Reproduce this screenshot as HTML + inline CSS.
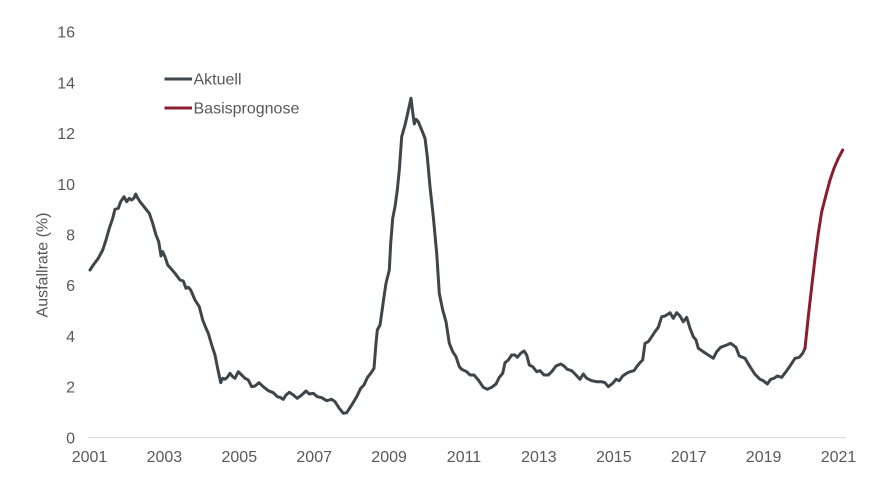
<!DOCTYPE html>
<html>
<head>
<meta charset="utf-8">
<style>
  html,body{margin:0;padding:0;background:#ffffff;}
  svg{display:block;}
  text{font-family:"Liberation Sans",Arial,sans-serif;fill:#595959;}
</style>
</head>
<body>
<svg width="890" height="489" viewBox="0 0 890 489" xmlns="http://www.w3.org/2000/svg">
  <rect width="890" height="489" fill="#ffffff"/>
  <!-- x axis line -->
  <line x1="88" y1="437.5" x2="846" y2="437.5" stroke="#d9d9d9" stroke-width="1"/>
  <!-- y tick labels -->
  <g font-size="16" text-anchor="end">
    <text x="75" y="443.3">0</text>
    <text x="75" y="392.6">2</text>
    <text x="75" y="341.9">4</text>
    <text x="75" y="291.2">6</text>
    <text x="75" y="240.5">8</text>
    <text x="75" y="189.8">10</text>
    <text x="75" y="139.1">12</text>
    <text x="75" y="88.4">14</text>
    <text x="75" y="37.7">16</text>
  </g>
  <!-- x tick labels -->
  <g font-size="16" text-anchor="middle">
    <text x="89.5" y="461.8">2001</text>
    <text x="164.4" y="461.8">2003</text>
    <text x="239.3" y="461.8">2005</text>
    <text x="314.2" y="461.8">2007</text>
    <text x="389.1" y="461.8">2009</text>
    <text x="464" y="461.8">2011</text>
    <text x="538.9" y="461.8">2013</text>
    <text x="613.8" y="461.8">2015</text>
    <text x="688.7" y="461.8">2017</text>
    <text x="763.6" y="461.8">2019</text>
    <text x="838.5" y="461.8">2021</text>
  </g>
  <!-- y axis title -->
  <text font-size="16" text-anchor="middle" transform="translate(47.5,265) rotate(-90)">Ausfallrate (%)</text>
  <!-- legend -->
  <line x1="164.5" y1="79" x2="192" y2="79" stroke="#3e464c" stroke-width="3"/>
  <text x="193.5" y="84.5" font-size="16">Aktuell</text>
  <line x1="164.5" y1="108" x2="192" y2="108" stroke="#8c1c30" stroke-width="3"/>
  <text x="193.5" y="113.5" font-size="16">Basisprognose</text>
  <!-- series: Aktuell -->
  <polyline fill="none" stroke="#3e464c" stroke-width="3" stroke-linejoin="round" stroke-linecap="round" points="
90,270 93.3,265 98.3,258.3 102.7,250 106,240 109.3,228.3 112.7,218.3 115,209.3 118.3,208.3 120.7,201.7 124,196.7 126.7,201.7 129.3,198.3 131.7,200 134,198 135.7,194 137.3,197.3 140,201.7 144,206.7 149.3,213.3 152.7,223.3 156,235 158.7,241.7 161,256 162.7,251.7 165,256.7 167.7,265 170.7,268.3 175,273.3 180,280 183.3,281 186,288.3 188.3,287.3 190.7,290 195,300 199.3,306.7 202.7,320 206,328.3 208.3,333.3 211.7,345 215,355 217.3,366.7 220.7,382.7 222.7,378.3 225,379.3 227.3,377.3 230,373.3 232.7,376.7 235,378.3 238.3,371.7 241.7,375 245,378.3 248.3,380 251.7,386.7 255,386 259,382.7 263.3,386.7 268.3,390.7 273.3,392.7 277.3,396.7 280,397.3 283.3,399.3 286,395 289.3,392.3 293.3,395 297.3,398.3 301.7,395 306,391 309.3,394 313.3,393.3 317.3,396.7 321.7,397.7 326.7,400.7 331.7,399.3 335,401.7 339.3,408.3 343.3,413.3 346.7,412.7 351.7,405 356.7,396.7 360.7,388.3 364,385 367.3,377.7 370.7,373.3 374,368.3 376,343.3 377.3,330 380,325 381.7,313.3 384,296.7 386,283.3 389.3,270 390.7,243.3 392.7,218.3 395,206.7 397.3,190 399.3,170 401.7,136.7 405,125 407.3,115 411,98.3 413.3,116.7 414.3,124 416,119.3 418.3,121.7 421.7,130 425,138.3 427.3,156.7 430,186.7 433.3,216.7 436.7,253.3 439.3,293.3 442.7,310 446,321.7 449.3,343.3 452.7,351.7 456,356.7 459.3,366.7 461.7,369.3 466.7,371.7 470,375 474,375 478.3,380 483.3,387.3 487.3,389.3 491.7,387.3 496,384 499.3,377.3 502.7,373.3 505,362.7 508.3,360 511.7,355 515,355 517.3,357.3 520.7,353.3 524,351 526.7,355 529.3,365 532.7,366.7 536.7,371.7 540,370.7 544,375 548.3,375 551.7,371.7 556,366 560.7,364 564,366 567.3,369.3 571.7,370.7 576,375 580,379.3 583.3,374 586.7,378.3 591.7,380.7 596.7,381.7 601.7,381.7 605,382.7 608.3,386.7 612.7,383.3 616,379.3 619.3,380.7 622.7,376 626.7,373.3 630,371.7 634,370.7 636.7,366.7 640,362.7 642.7,360 645,343.3 648.3,341.7 651.7,336.7 655,331.7 658.3,327.3 661.7,316.7 665,316 670,312.7 673.3,318.3 676.7,312.7 680,316 683.3,321.7 686.7,317.3 690,328.3 693.3,336.7 696,340 698.3,348.3 703.3,351.7 708.3,355 713.3,358.3 716.7,351.7 720.7,347.3 726.7,345 730.7,343.3 736,347.3 739.3,356 745,358.3 750,366.7 755,374.3 760,379.3 763.3,380.7 767.3,384 770.7,379.3 774,378.3 777.3,376 781.7,377.3 786,371.7 790.7,365 795,358.3 799.3,357.3 802.7,353.3 805,348.3"/>
  <!-- series: Basisprognose -->
  <polyline fill="none" stroke="#8c1c30" stroke-width="3" stroke-linejoin="round" stroke-linecap="round" points="
805,348.3 808.3,316.7 811.7,286.7 815,258.3 818.3,233.3 821.7,211.7 826,195 830,180 834,168.3 838.3,158.3 842.7,150"/>
</svg>
</body>
</html>
